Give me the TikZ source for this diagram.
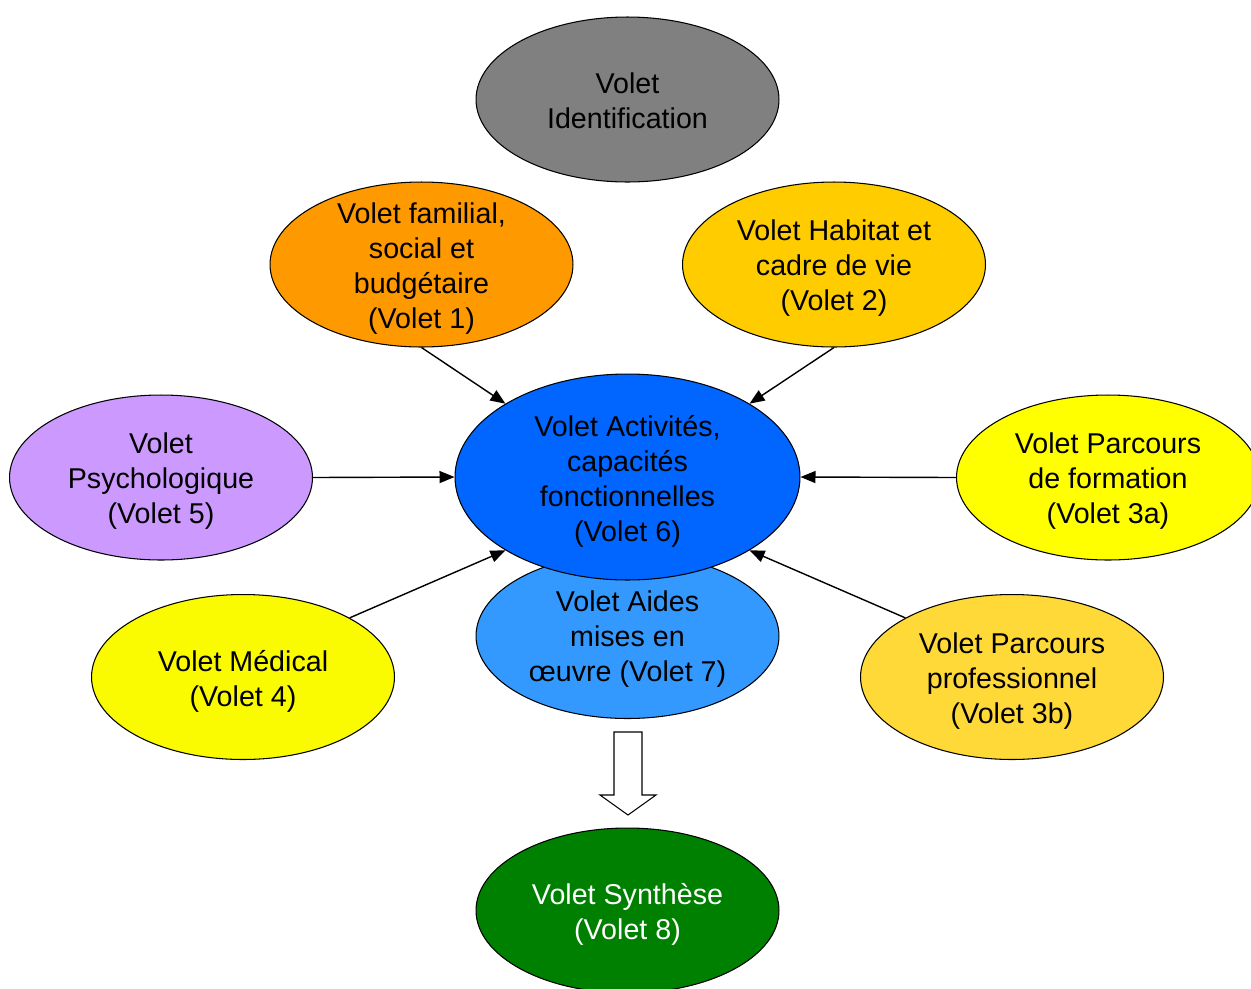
\documentclass[tikz,border=0pt]{standalone}
\usepackage{fontspec}
\setmainfont{Liberation Sans}
\usetikzlibrary{shapes.geometric,arrows.meta}
\definecolor{cIdent}{HTML}{808080}
\definecolor{cFam}{HTML}{FF9900}
\definecolor{cHab}{HTML}{FFCC00}
\definecolor{cPsy}{HTML}{CC99FF}
\definecolor{cForm}{HTML}{FFFF00}
\definecolor{cAct}{HTML}{0066FF}
\definecolor{cAides}{HTML}{3399FF}
\definecolor{cMed}{HTML}{FAFA00}
\definecolor{cPro}{HTML}{FFD938}
\definecolor{cSyn}{HTML}{008000}
\tikzset{
  volet/.style={ellipse, draw=black, line width=0.6pt, inner sep=0pt,
    minimum width=6.06cm, minimum height=3.3cm},
  bigvolet/.style={volet, minimum width=6.9cm, minimum height=4.12cm},
  lbl/.style={inner sep=0pt, align=center, font=\fontsize{16.3}{19.9}\selectfont},
  link/.style={line width=0.8pt, -{Triangle[length=0.3cm,width=0.24cm]}},
}
\begin{document}
\begin{tikzpicture}[x=0.02cm,y=-0.02cm]
\clip (0,0) rectangle (1251,988);
\fill[white] (0,0) rectangle (1251,988);
\node[volet, fill=cIdent] (ident) at (627.5,99.5) {};
\node[volet, fill=cFam] (fam) at (421.5,264.5) {};
\node[volet, fill=cHab] (hab) at (834,264.5) {};
\node[volet, fill=cPsy] (psy) at (161,477.5) {};
\node[volet, fill=cForm] (form) at (1108,477.5) {};
\node[volet, fill=cAides] (aides) at (627.5,636) {};
\node[lbl] (aidesT) at ([yshift=-0.06cm]aides.center) {Volet Aides\\mises en\\\oe uvre (Volet 7)};
\node[bigvolet, fill=cAct] (act) at (627.5,477) {};
\node[volet, fill=cMed] (med) at (243,677) {};
\node[volet, fill=cPro] (pro) at (1012,677) {};
\node[volet, fill=cSyn] (syn) at (627.5,910.5) {};
\node[lbl] (identT) at ([yshift=-0.02cm]ident.center) {Volet\\Identification};
\node[lbl] (famT) at ([yshift=-0.08cm]fam.center) {Volet familial,\\social et\\budgétaire\\(Volet 1)};
\node[lbl] (habT) at ([yshift=-0.08cm]hab.center) {Volet Habitat et\\cadre de vie\\(Volet 2)};
\node[lbl] (psyT) at ([yshift=-0.08cm]psy.center) {Volet\\Psychologique\\(Volet 5)};
\node[lbl] (formT) at ([yshift=-0.08cm]form.center) {Volet Parcours\\de formation\\(Volet 3a)};
\node[lbl] (actT) at ([yshift=-0.08cm]act.center) {Volet Activités,\\capacités\\fonctionnelles\\(Volet 6)};
\node[lbl] (medT) at ([yshift=-0.08cm]med.center) {Volet Médical\\(Volet 4)};
\node[lbl] (proT) at ([yshift=-0.08cm]pro.center) {Volet Parcours\\professionnel\\(Volet 3b)};
\node[lbl, text=white] (synT) at ([yshift=-0.08cm]syn.center) {Volet Synthèse\\(Volet 8)};
\draw[link] (fam.south) -- (act.149);
\draw[link] (hab.south) -- (act.31);
\draw[link] (psy.east) -- (act.west);
\draw[link] (form.west) -- (act.east);
\draw[link] (med.29) -- (act.211);
\draw[link] (pro.151) -- (act.329);
\draw[line width=0.6pt, fill=white] (614,732) -- (642,732) -- (642,795) -- (656,795) -- (628,815) -- (600,795) -- (614,795) -- cycle;
\end{tikzpicture}
\end{document}
